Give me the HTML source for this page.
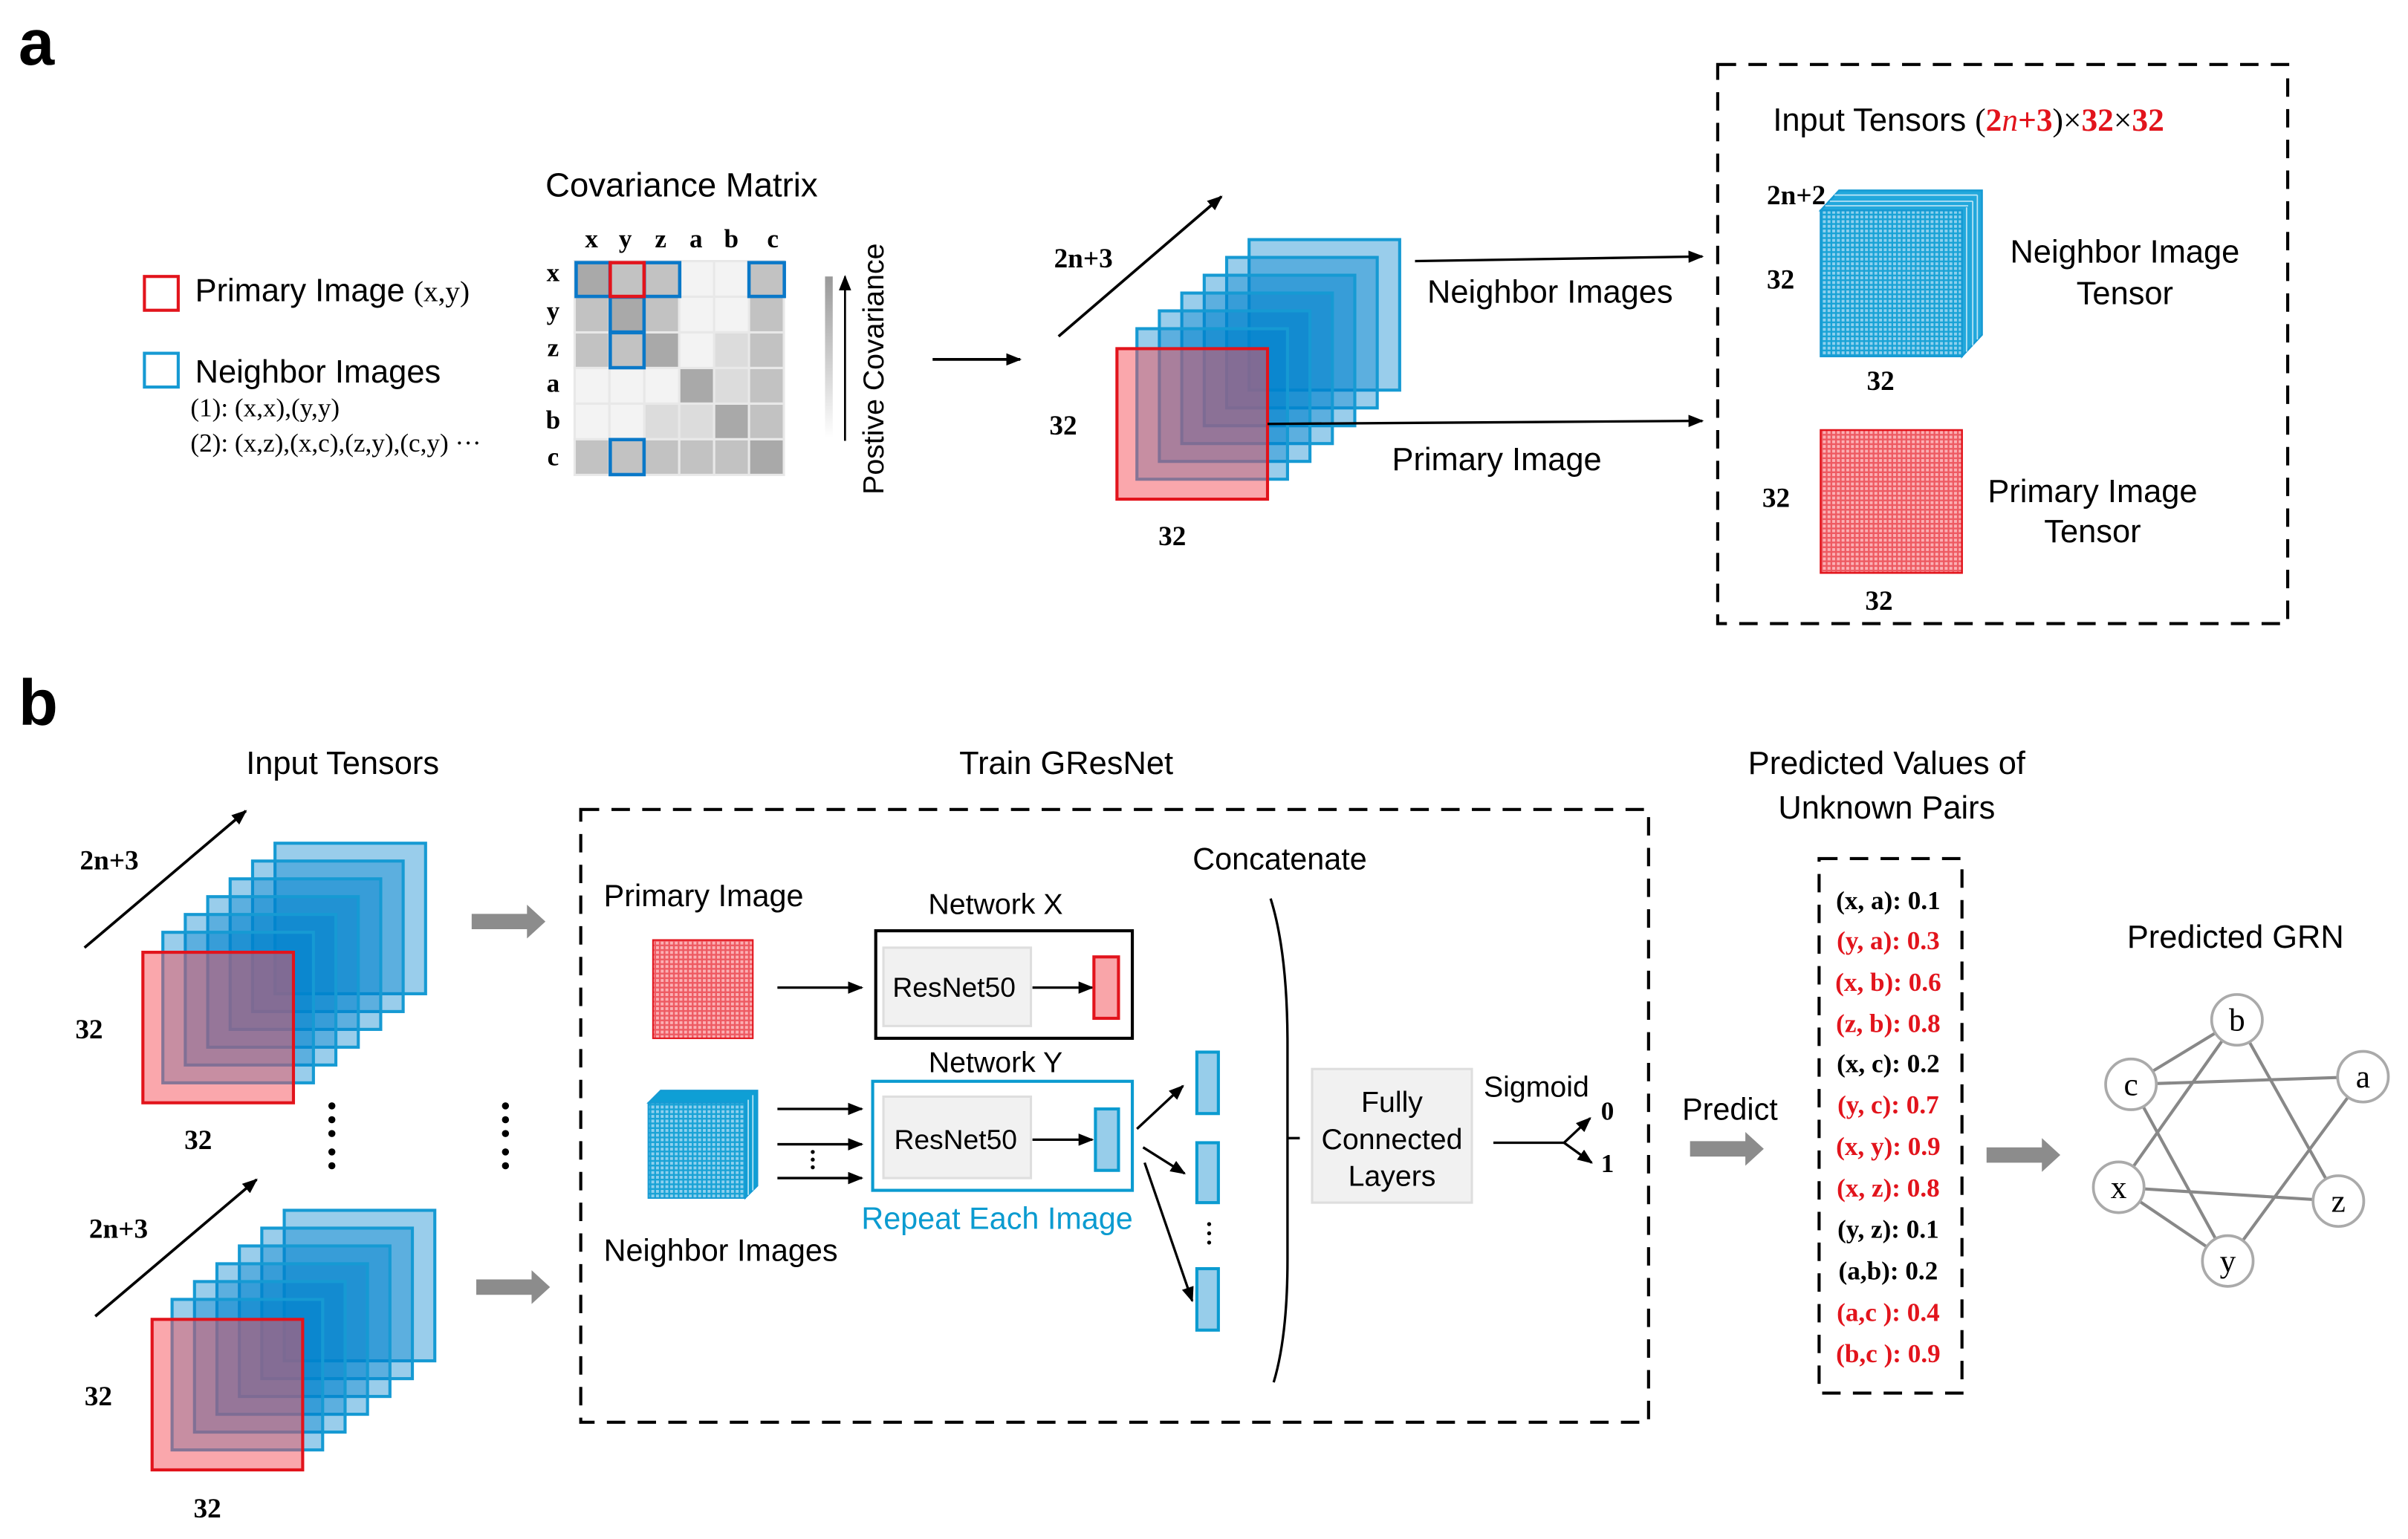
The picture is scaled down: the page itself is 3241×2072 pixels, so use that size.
<!DOCTYPE html>
<html><head><meta charset="utf-8"><style>
html,body{margin:0;padding:0;background:#fff;}
svg{display:block;}
.s{font-family:"Liberation Sans",sans-serif;}
.r{font-family:"Liberation Serif",serif;}
</style></head><body>
<svg width="3241" height="2072" viewBox="0 0 1567.3 1002" preserveAspectRatio="none" xmlns="http://www.w3.org/2000/svg">
<defs>
<marker id="ah" markerWidth="10" markerHeight="8" refX="9" refY="4" orient="auto" markerUnits="userSpaceOnUse"><path d="M0,0 L10,4 L0,8 z" fill="#000"/></marker>
<pattern id="gr" width="3.05" height="3.05" patternUnits="userSpaceOnUse"><rect width="3.05" height="3.05" fill="#ee5a62"/><rect width="1.9" height="1.9" fill="#fbb0b4"/></pattern>
<pattern id="gb" width="3.05" height="3.05" patternUnits="userSpaceOnUse"><rect width="3.05" height="3.05" fill="#19a3d6"/><rect width="1.9" height="1.9" fill="#8fd0ee"/></pattern>
<g id="stack">
<rect x="86" y="-71" width="98" height="98" fill="rgba(0,130,205,0.4)" stroke="#169ad3" stroke-width="2"/>
<rect x="71.4" y="-59.4" width="98" height="98" fill="rgba(0,130,205,0.4)" stroke="#169ad3" stroke-width="2"/>
<rect x="56.8" y="-47.8" width="98" height="98" fill="rgba(0,130,205,0.4)" stroke="#169ad3" stroke-width="2"/>
<rect x="42.2" y="-36.2" width="98" height="98" fill="rgba(0,130,205,0.4)" stroke="#169ad3" stroke-width="2"/>
<rect x="27.6" y="-24.6" width="98" height="98" fill="rgba(0,130,205,0.4)" stroke="#169ad3" stroke-width="2"/>
<rect x="13" y="-13" width="98" height="98" fill="rgba(0,130,205,0.4)" stroke="#169ad3" stroke-width="2"/>
<rect x="0" y="0" width="98" height="98" fill="rgba(245,80,90,0.5)" stroke="#e2141c" stroke-width="2"/>
</g>
<g id="garrow"><path d="M0,-5 H36 V-11 L48,0 L36,11 V5 H0 z" fill="#8c8c8c"/></g>
</defs>

<!-- panel a -->
<text x="12" y="42" class="s" font-size="42" font-weight="bold">a</text>
<rect x="94" y="180" width="22" height="22" fill="none" stroke="#e2141c" stroke-width="2"/>
<text x="127" y="196" class="s" font-size="21">Primary Image <tspan class="r" font-size="19">(x,y)</tspan></text>
<rect x="94" y="230" width="22" height="22" fill="none" stroke="#169ad3" stroke-width="2"/>
<text x="127" y="249" class="s" font-size="21">Neighbor Images</text>
<text x="124" y="271" class="r" font-size="17">(1): (x,x),(y,y)</text>
<text x="124" y="294" class="r" font-size="17">(2): (x,z),(x,c),(z,y),(c,y)  ···</text>

<text x="355" y="128" class="s" font-size="22">Covariance Matrix</text>
<g class="r" font-size="17" font-weight="bold" text-anchor="middle">
<text x="385" y="161">x</text><text x="407" y="161">y</text><text x="430" y="161">z</text><text x="453" y="161">a</text><text x="476" y="161">b</text><text x="503" y="161">c</text>
<text x="360" y="183">x</text><text x="360" y="208">y</text><text x="360" y="232">z</text><text x="360" y="255">a</text><text x="360" y="279">b</text><text x="360" y="303">c</text>
</g>
<g stroke="#e8e8e8" stroke-width="1.5">
<rect x="374" y="170" width="22.7" height="23.2" fill="#a9a9a9"/><rect x="396.7" y="170" width="22.7" height="23.2" fill="#c2c2c2"/><rect x="419.4" y="170" width="22.7" height="23.2" fill="#c2c2c2"/><rect x="442.1" y="170" width="22.7" height="23.2" fill="#f3f3f3"/><rect x="464.8" y="170" width="22.7" height="23.2" fill="#f3f3f3"/><rect x="487.5" y="170" width="22.7" height="23.2" fill="#c2c2c2"/>
<rect x="374" y="193.2" width="22.7" height="23.2" fill="#c2c2c2"/><rect x="396.7" y="193.2" width="22.7" height="23.2" fill="#a9a9a9"/><rect x="419.4" y="193.2" width="22.7" height="23.2" fill="#c2c2c2"/><rect x="442.1" y="193.2" width="22.7" height="23.2" fill="#f3f3f3"/><rect x="464.8" y="193.2" width="22.7" height="23.2" fill="#f3f3f3"/><rect x="487.5" y="193.2" width="22.7" height="23.2" fill="#c2c2c2"/>
<rect x="374" y="216.4" width="22.7" height="23.2" fill="#c2c2c2"/><rect x="396.7" y="216.4" width="22.7" height="23.2" fill="#c2c2c2"/><rect x="419.4" y="216.4" width="22.7" height="23.2" fill="#a9a9a9"/><rect x="442.1" y="216.4" width="22.7" height="23.2" fill="#f3f3f3"/><rect x="464.8" y="216.4" width="22.7" height="23.2" fill="#dcdcdc"/><rect x="487.5" y="216.4" width="22.7" height="23.2" fill="#c2c2c2"/>
<rect x="374" y="239.6" width="22.7" height="23.2" fill="#f3f3f3"/><rect x="396.7" y="239.6" width="22.7" height="23.2" fill="#f3f3f3"/><rect x="419.4" y="239.6" width="22.7" height="23.2" fill="#f3f3f3"/><rect x="442.1" y="239.6" width="22.7" height="23.2" fill="#a9a9a9"/><rect x="464.8" y="239.6" width="22.7" height="23.2" fill="#dcdcdc"/><rect x="487.5" y="239.6" width="22.7" height="23.2" fill="#c2c2c2"/>
<rect x="374" y="262.8" width="22.7" height="23.2" fill="#f3f3f3"/><rect x="396.7" y="262.8" width="22.7" height="23.2" fill="#f3f3f3"/><rect x="419.4" y="262.8" width="22.7" height="23.2" fill="#dcdcdc"/><rect x="442.1" y="262.8" width="22.7" height="23.2" fill="#dcdcdc"/><rect x="464.8" y="262.8" width="22.7" height="23.2" fill="#a9a9a9"/><rect x="487.5" y="262.8" width="22.7" height="23.2" fill="#c2c2c2"/>
<rect x="374" y="286" width="22.7" height="23.2" fill="#c2c2c2"/><rect x="396.7" y="286" width="22.7" height="23.2" fill="#c2c2c2"/><rect x="419.4" y="286" width="22.7" height="23.2" fill="#c2c2c2"/><rect x="442.1" y="286" width="22.7" height="23.2" fill="#c2c2c2"/><rect x="464.8" y="286" width="22.7" height="23.2" fill="#c2c2c2"/><rect x="487.5" y="286" width="22.7" height="23.2" fill="#a9a9a9"/>
</g>
<g fill="none" stroke-width="2.2">
<rect x="375" y="171" width="22" height="22" stroke="#0a78c8"/>
<rect x="419.4" y="171" width="23" height="22" stroke="#0a78c8"/>
<rect x="487.5" y="171" width="23" height="22" stroke="#0a78c8"/>
<rect x="397.2" y="193.4" width="22" height="22.8" stroke="#0a78c8"/>
<rect x="397.2" y="216.6" width="22" height="22.8" stroke="#0a78c8"/>
<rect x="397.2" y="286.2" width="22" height="22.8" stroke="#0a78c8"/>
<rect x="397.2" y="171" width="22" height="22" stroke="#e2141c"/>
</g>
<defs><linearGradient id="cg" x1="0" y1="1" x2="0" y2="0"><stop offset="0" stop-color="#fff"/><stop offset="1" stop-color="#999"/></linearGradient></defs>
<rect x="537" y="180" width="5" height="105" fill="url(#cg)"/>
<line x1="550" y1="287" x2="550" y2="180" stroke="#000" stroke-width="1.3" marker-end="url(#ah)"/>
<text transform="translate(575,322) rotate(-90)" class="s" font-size="19">Postive Covariance</text>

<line x1="607" y1="234" x2="664" y2="234" stroke="#000" stroke-width="1.8" marker-end="url(#ah)"/>
<line x1="689" y1="219" x2="795" y2="128" stroke="#000" stroke-width="1.8" marker-end="url(#ah)"/>
<text x="686" y="174" class="r" font-size="18" font-weight="bold">2n+3</text>
<use href="#stack" transform="translate(727,227)"/>
<text x="683" y="283" class="r" font-size="18" font-weight="bold">32</text>
<text x="754" y="355" class="r" font-size="18" font-weight="bold">32</text>
<line x1="921" y1="170" x2="1108" y2="167" stroke="#000" stroke-width="1.6" marker-end="url(#ah)"/>
<line x1="825" y1="276" x2="1108" y2="274" stroke="#000" stroke-width="1.6" marker-end="url(#ah)"/>
<text x="929" y="197" class="s" font-size="21">Neighbor Images</text>
<text x="906" y="306" class="s" font-size="21">Primary Image</text>

<rect x="1118" y="42" width="371" height="364" fill="none" stroke="#000" stroke-width="2" stroke-dasharray="12,8"/>
<text x="1154" y="85" class="s" font-size="21">Input Tensors <tspan class="r">(</tspan><tspan class="r" fill="#e2141c" font-weight="bold">2<tspan font-style="italic" font-weight="normal">n</tspan>+3</tspan><tspan class="r">)×</tspan><tspan class="r" fill="#e2141c" font-weight="bold">32</tspan><tspan class="r">×</tspan><tspan class="r" fill="#e2141c" font-weight="bold">32</tspan></text>
<path d="M1185,137 L1197,124 L1290,124 L1290,218 L1277,232 L1277,137 z" fill="#22a8dc" stroke="#169ad3" stroke-width="1.2"/>
<path d="M1188,134 L1281,134 M1191,131 L1284,131 M1194,127 L1287,127 M1280,135 V229 M1284,131 V225 M1287,127 V221" stroke="#bfe6f6" stroke-width="0.8" fill="none"/>
<rect x="1185" y="137" width="92" height="95" fill="url(#gb)" stroke="#169ad3" stroke-width="1.2"/>
<text x="1150" y="133" class="r" font-size="18" font-weight="bold">2n+2</text>
<text x="1150" y="188" class="r" font-size="18" font-weight="bold">32</text>
<text x="1215" y="254" class="r" font-size="18" font-weight="bold">32</text>
<text x="1383" y="171" class="s" font-size="21" text-anchor="middle">Neighbor Image</text>
<text x="1383" y="198" class="s" font-size="21" text-anchor="middle">Tensor</text>
<rect x="1185" y="280" width="92" height="93" fill="url(#gr)" stroke="#e2141c" stroke-width="1.2"/>
<text x="1147" y="330" class="r" font-size="18" font-weight="bold">32</text>
<text x="1214" y="397" class="r" font-size="18" font-weight="bold">32</text>
<text x="1362" y="327" class="s" font-size="21" text-anchor="middle">Primary Image</text>
<text x="1362" y="353" class="s" font-size="21" text-anchor="middle">Tensor</text>

<!-- panel b -->
<text x="12" y="472" class="s" font-size="42" font-weight="bold">b</text>
<text x="223" y="504" class="s" font-size="21" text-anchor="middle">Input Tensors</text>
<line x1="55" y1="617" x2="160" y2="528" stroke="#000" stroke-width="1.8" marker-end="url(#ah)"/>
<text x="52" y="566" class="r" font-size="18" font-weight="bold">2n+3</text>
<use href="#stack" transform="translate(93,620)"/>
<text x="49" y="676" class="r" font-size="18" font-weight="bold">32</text>
<text x="120" y="748" class="r" font-size="18" font-weight="bold">32</text>
<line x1="62" y1="857" x2="167" y2="768" stroke="#000" stroke-width="1.8" marker-end="url(#ah)"/>
<text x="58" y="806" class="r" font-size="18" font-weight="bold">2n+3</text>
<use href="#stack" transform="translate(99,859)"/>
<text x="55" y="915" class="r" font-size="18" font-weight="bold">32</text>
<text x="126" y="988" class="r" font-size="18" font-weight="bold">32</text>
<g fill="#000"><circle cx="216" cy="720" r="2.3"/><circle cx="216" cy="729" r="2.3"/><circle cx="216" cy="738" r="2.3"/><circle cx="216" cy="750" r="2.3"/><circle cx="216" cy="759" r="2.3"/>
<circle cx="329" cy="720" r="2.3"/><circle cx="329" cy="729" r="2.3"/><circle cx="329" cy="738" r="2.3"/><circle cx="329" cy="750" r="2.3"/><circle cx="329" cy="759" r="2.3"/></g>
<use href="#garrow" transform="translate(307,600)"/>
<use href="#garrow" transform="translate(310,838)"/>

<text x="694" y="504" class="s" font-size="21" text-anchor="middle">Train GResNet</text>
<rect x="378" y="527" width="695" height="399" fill="none" stroke="#000" stroke-width="2" stroke-dasharray="12,8"/>
<text x="393" y="590" class="s" font-size="20">Primary Image</text>
<rect x="425" y="612" width="65" height="64" fill="url(#gr)" stroke="#e2141c" stroke-width="1"/>
<line x1="506" y1="643" x2="561" y2="643" stroke="#000" stroke-width="1.6" marker-end="url(#ah)"/>
<text x="648" y="595" class="s" font-size="19" text-anchor="middle">Network X</text>
<rect x="570" y="606" width="167" height="70" fill="none" stroke="#000" stroke-width="2"/>
<rect x="575" y="617" width="96" height="51" fill="#f1f1f1" stroke="#dedede" stroke-width="1.5"/>
<text x="621" y="649" class="s" font-size="18" text-anchor="middle">ResNet50</text>
<line x1="672" y1="643" x2="711" y2="643" stroke="#000" stroke-width="1.6" marker-end="url(#ah)"/>
<rect x="712" y="623" width="16" height="40" fill="#f9a5a9" stroke="#e2141c" stroke-width="2"/>

<path d="M422,718 L430,710 L493,710 L493,772 L485,780 L485,718 z" fill="#0f9fd5" stroke="#169ad3" stroke-width="1"/>
<path d="M487,716 V778 M490,713 V775" stroke="#bfe6f6" stroke-width="0.8"/>
<rect x="422" y="718" width="63" height="62" fill="url(#gb)" stroke="#169ad3" stroke-width="1"/>
<line x1="506" y1="722" x2="561" y2="722" stroke="#000" stroke-width="1.6" marker-end="url(#ah)"/>
<line x1="506" y1="745" x2="561" y2="745" stroke="#000" stroke-width="1.6" marker-end="url(#ah)"/>
<line x1="506" y1="767" x2="561" y2="767" stroke="#000" stroke-width="1.6" marker-end="url(#ah)"/>
<g fill="#000"><circle cx="529" cy="750" r="1.3"/><circle cx="529" cy="755" r="1.3"/><circle cx="529" cy="760" r="1.3"/></g>
<text x="393" y="821" class="s" font-size="20">Neighbor Images</text>
<text x="648" y="698" class="s" font-size="19" text-anchor="middle">Network Y</text>
<rect x="568" y="704" width="169" height="71" fill="none" stroke="#0b9bd0" stroke-width="2"/>
<rect x="575" y="714" width="96" height="53" fill="#f1f1f1" stroke="#dedede" stroke-width="1.5"/>
<text x="622" y="748" class="s" font-size="18" text-anchor="middle">ResNet50</text>
<line x1="672" y1="742" x2="711" y2="742" stroke="#000" stroke-width="1.6" marker-end="url(#ah)"/>
<rect x="713" y="722" width="15" height="40" fill="#97cdea" stroke="#0b9bd0" stroke-width="2"/>
<text x="649" y="800" class="s" font-size="20" fill="#0b9bd0" text-anchor="middle">Repeat Each Image</text>
<line x1="740" y1="735" x2="770" y2="707" stroke="#000" stroke-width="1.6" marker-end="url(#ah)"/>
<line x1="744" y1="747" x2="771" y2="764" stroke="#000" stroke-width="1.6" marker-end="url(#ah)"/>
<line x1="745" y1="757" x2="776" y2="847" stroke="#000" stroke-width="1.6" marker-end="url(#ah)"/>
<rect x="779" y="685" width="14" height="40" fill="#97cdea" stroke="#0b9bd0" stroke-width="2"/>
<rect x="779" y="744" width="14" height="39" fill="#97cdea" stroke="#0b9bd0" stroke-width="2"/>
<rect x="779" y="826" width="14" height="40" fill="#97cdea" stroke="#0b9bd0" stroke-width="2"/>
<g fill="#000"><circle cx="787" cy="797" r="1.3"/><circle cx="787" cy="803" r="1.3"/><circle cx="787" cy="809" r="1.3"/></g>
<text x="833" y="566" class="s" font-size="20" text-anchor="middle">Concatenate</text>
<path d="M827,585 Q838,620 838,680 L838,820 Q838,870 829,900" fill="none" stroke="#000" stroke-width="1.6"/>
<line x1="838" y1="741" x2="846" y2="741" stroke="#000" stroke-width="1.6"/>
<rect x="854" y="696" width="104" height="87" fill="#f1f1f1" stroke="#dedede" stroke-width="1.5"/>
<text x="906" y="724" class="s" font-size="19" text-anchor="middle">Fully</text>
<text x="906" y="748" class="s" font-size="19" text-anchor="middle">Connected</text>
<text x="906" y="772" class="s" font-size="19" text-anchor="middle">Layers</text>
<text x="1000" y="714" class="s" font-size="19" text-anchor="middle">Sigmoid</text>
<path d="M972,744 L1018,744" stroke="#000" stroke-width="1.6" fill="none"/>
<line x1="1018" y1="744" x2="1035" y2="728" stroke="#000" stroke-width="1.6" marker-end="url(#ah)"/>
<line x1="1018" y1="744" x2="1036" y2="757" stroke="#000" stroke-width="1.6" marker-end="url(#ah)"/>
<text x="1042" y="729" class="r" font-size="17" font-weight="bold">0</text>
<text x="1042" y="763" class="r" font-size="17" font-weight="bold">1</text>

<text x="1126" y="729" class="s" font-size="20" text-anchor="middle">Predict</text>
<use href="#garrow" transform="translate(1100,748)"/>
<text x="1228" y="504" class="s" font-size="21" text-anchor="middle">Predicted Values of</text>
<text x="1228" y="533" class="s" font-size="21" text-anchor="middle">Unknown Pairs</text>
<rect x="1184" y="559" width="93" height="348" fill="none" stroke="#000" stroke-width="2" stroke-dasharray="12,8"/>
<g class="r" font-size="17" font-weight="bold" text-anchor="middle">
<text x="1229" y="592">(x, a): 0.1</text>
<text x="1229" y="618" fill="#e2141c">(y, a): 0.3</text>
<text x="1229" y="645" fill="#e2141c">(x, b): 0.6</text>
<text x="1229" y="672" fill="#e2141c">(z, b): 0.8</text>
<text x="1229" y="698">(x, c): 0.2</text>
<text x="1229" y="725" fill="#e2141c">(y, c): 0.7</text>
<text x="1229" y="752" fill="#e2141c">(x, y): 0.9</text>
<text x="1229" y="779" fill="#e2141c">(x, z): 0.8</text>
<text x="1229" y="806">(y, z): 0.1</text>
<text x="1229" y="833">(a,b): 0.2</text>
<text x="1229" y="860" fill="#e2141c">(a,c ): 0.4</text>
<text x="1229" y="887" fill="#e2141c">(b,c ): 0.9</text>
</g>
<use href="#garrow" transform="translate(1293,752)"/>
<text x="1455" y="617" class="s" font-size="21" text-anchor="middle">Predicted GRN</text>
<g stroke="#888" stroke-width="2">
<line x1="1387" y1="706" x2="1456" y2="664"/>
<line x1="1387" y1="706" x2="1538" y2="701"/>
<line x1="1387" y1="706" x2="1450" y2="821"/>
<line x1="1456" y1="664" x2="1379" y2="773"/>
<line x1="1456" y1="664" x2="1522" y2="782"/>
<line x1="1379" y1="773" x2="1522" y2="782"/>
<line x1="1379" y1="773" x2="1450" y2="821"/>
<line x1="1538" y1="701" x2="1450" y2="821"/>
</g>
<g fill="#fff" stroke="#aaa" stroke-width="1.8">
<circle cx="1456" cy="664" r="16.5"/><circle cx="1538" cy="701" r="16.5"/><circle cx="1387" cy="706" r="16.5"/>
<circle cx="1379" cy="773" r="16.5"/><circle cx="1522" cy="782" r="16.5"/><circle cx="1450" cy="821" r="16.5"/>
</g>
<g class="r" font-size="21" text-anchor="middle">
<text x="1456" y="671">b</text><text x="1538" y="708">a</text><text x="1387" y="713">c</text>
<text x="1379" y="780">x</text><text x="1522" y="789">z</text><text x="1450" y="828">y</text>
</g>
</svg>
</body></html>
